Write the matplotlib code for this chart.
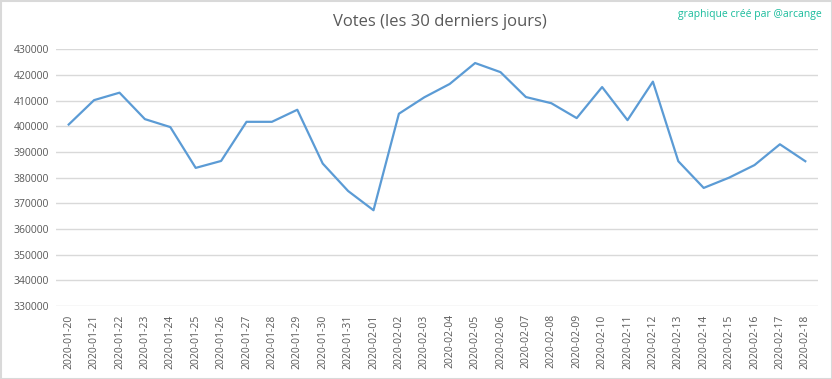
import matplotlib
matplotlib.use("Agg")
import matplotlib.pyplot as plt
from matplotlib.patches import Rectangle

dates = ["2020-01-20","2020-01-21","2020-01-22","2020-01-23","2020-01-24","2020-01-25",
         "2020-01-26","2020-01-27","2020-01-28","2020-01-29","2020-01-30","2020-01-31",
         "2020-02-01","2020-02-02","2020-02-03","2020-02-04","2020-02-05","2020-02-06",
         "2020-02-07","2020-02-08","2020-02-09","2020-02-10","2020-02-11","2020-02-12",
         "2020-02-13","2020-02-14","2020-02-15","2020-02-16","2020-02-17","2020-02-18"]
votes = [400700, 410200, 413100, 402800, 399700, 383800,
         386500, 401750, 401750, 406450, 385500, 374800,
         367300, 404900, 411300, 416500, 424650, 421100,
         411400, 409000, 403200, 415300, 402400, 417400,
         386400, 376000, 380000, 384900, 393000, 386400]
yticks = list(range(330000, 430001, 10000))

plt.rcParams['font.family'] = ['Open Sans', 'DejaVu Sans']

W, H = 832, 379
fig = plt.figure(figsize=(W/100, H/100), dpi=100)
ax = fig.add_axes([56/W, 1-306/H, (818-56)/W, (306-49.3)/H])

x = list(range(len(dates)))
ax.plot(x, votes, color='#5B9BD5', lw=1.6, solid_joinstyle='round')
ax.set_xlim(-0.5, len(dates)-0.5)
ax.set_ylim(330000, 430000)
ax.set_yticks(yticks)
ax.set_yticklabels([str(v) for v in yticks], fontsize=7.5, color='#595959')
ax.set_xticks(x)
ax.set_xticklabels(dates, rotation=90, fontsize=7.5, color='#595959')
ax.tick_params(axis='both', length=0, pad=5)
ax.tick_params(axis='x', pad=6)
ax.grid(axis='y', color='#D9D9D9', lw=1.0)
ax.set_axisbelow(True)
for s in ax.spines.values():
    s.set_visible(False)

fig.text(440/W, 1-22/H, "Votes (les 30 derniers jours)", ha='center', va='center',
         fontsize=12, color='#595959')
fig.text(822/W, 1-15/H, "graphique créé par @arcange", ha='right', va='center',
         fontsize=7.5, color='#1ABC9C')

fig.patches.append(Rectangle((0.5/W, 0.5/H), 1-1/W, 1-1/H, transform=fig.transFigure,
                             fill=False, edgecolor='#D9D9D9', lw=1.5))
fig.savefig("out.png", dpi=100)
